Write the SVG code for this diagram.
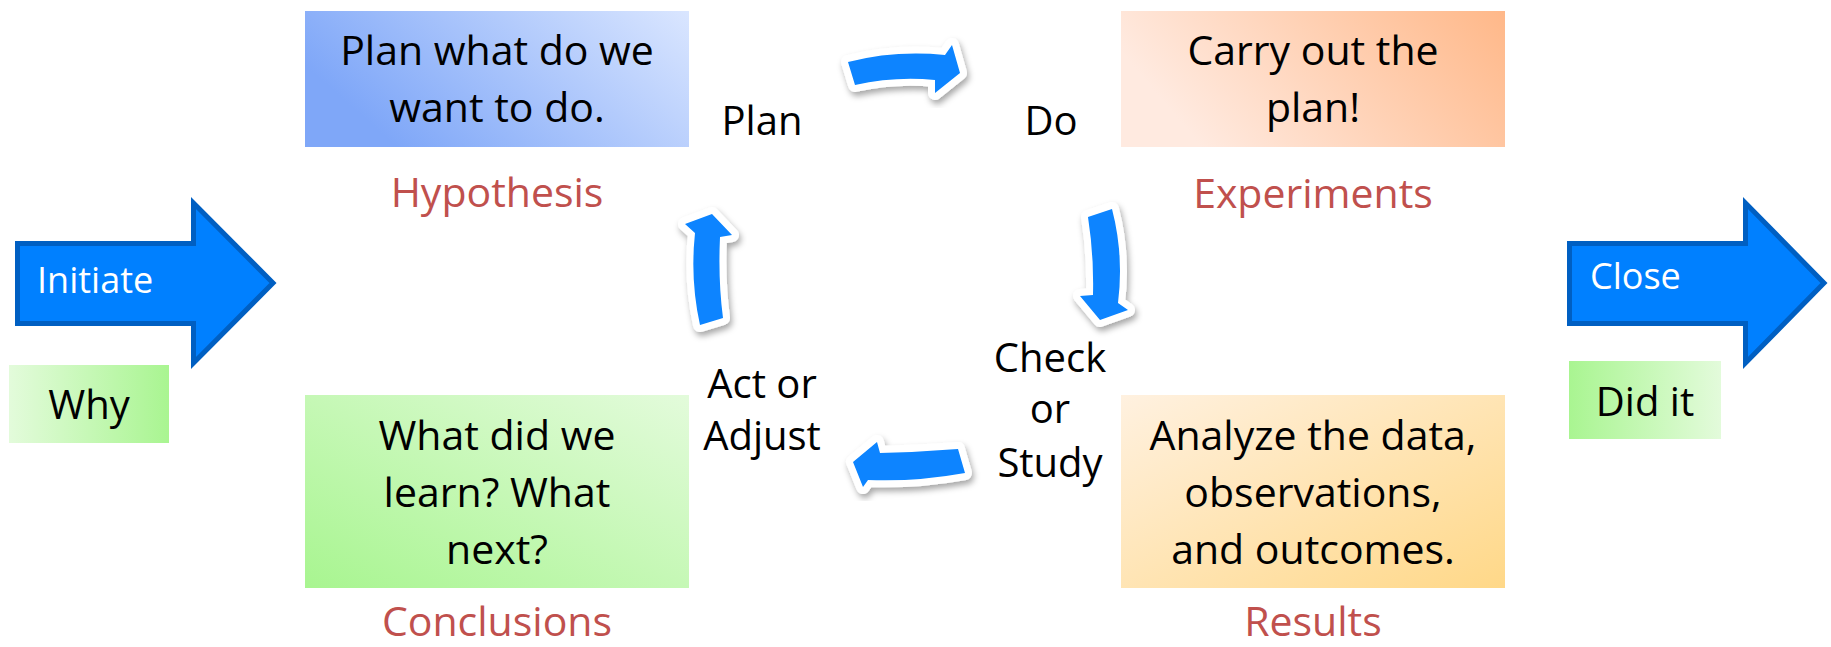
<svg xmlns="http://www.w3.org/2000/svg" width="1831" height="647" viewBox="0 0 1831 647">
  <defs>
    <linearGradient id="gPlan" x1="0" y1="0.4" x2="1" y2="0">
      <stop offset="0" stop-color="#7FA7F8"/>
      <stop offset="1" stop-color="#DAE6FF"/>
    </linearGradient>
    <linearGradient id="gDo" x1="0" y1="0.3" x2="1" y2="0">
      <stop offset="0" stop-color="#FFEAE0"/>
      <stop offset="1" stop-color="#FFB889"/>
    </linearGradient>
    <linearGradient id="gConc" x1="0" y1="1" x2="1" y2="0">
      <stop offset="0" stop-color="#A8F590"/>
      <stop offset="1" stop-color="#E3FBDB"/>
    </linearGradient>
    <linearGradient id="gRes" x1="0" y1="0" x2="1" y2="1">
      <stop offset="0" stop-color="#FFF1E0"/>
      <stop offset="1" stop-color="#FFD888"/>
    </linearGradient>
    <linearGradient id="gWhy" x1="0" y1="0" x2="1" y2="0">
      <stop offset="0" stop-color="#E3FBDB"/>
      <stop offset="1" stop-color="#A9F591"/>
    </linearGradient>
    <linearGradient id="gDid" x1="0" y1="0" x2="1" y2="0">
      <stop offset="0" stop-color="#A9F591"/>
      <stop offset="1" stop-color="#E3FBDB"/>
    </linearGradient>
    <filter id="shadow" x="-30%" y="-30%" width="160%" height="160%">
      <feDropShadow dx="2" dy="4" stdDeviation="3" flood-color="#000" flood-opacity="0.35"/>
    </filter>
  </defs>
  <style>
    text { font-family: "Open Sans", "Liberation Sans", sans-serif; }
    .box { font-size: 41px; fill: #000; text-anchor: middle; }
    .lbl { font-size: 41px; fill: #C0504D; text-anchor: middle; }
    .step { font-size: 40px; fill: #000; text-anchor: middle; }
    .big { fill: #0080FF; stroke: #005FC2; stroke-width: 5; stroke-linejoin: miter; }
    .bigtxt { font-size: 36px; fill: #FFFFFF; }
    .tag { font-size: 40px; fill: #000; text-anchor: middle; }
    .curv { fill: #0A84FF; stroke: #FFFFFF; stroke-width: 14; stroke-linejoin: round; paint-order: stroke; filter: url(#shadow); }
  </style>
  <rect width="1831" height="647" fill="#FFFFFF"/>

  <g id="initiate">
    <polygon class="big" points="17.5,243.5 193.5,243.5 193.5,203 273,283 193.5,363 193.5,323.5 17.5,323.5"/>
    <text class="bigtxt" x="37" y="293">Initiate</text>
  </g>
  <g id="why">
    <rect x="9" y="365" width="160" height="78" fill="url(#gWhy)"/>
    <text class="tag" x="89" y="419">Why</text>
  </g>

  <g id="close">
    <polygon class="big" points="1569.5,243.5 1745.5,243.5 1745.5,203 1824,283 1745.5,363 1745.5,323.5 1569.5,323.5"/>
    <text class="bigtxt" x="1590" y="289">Close</text>
  </g>
  <g id="didit">
    <rect x="1569" y="361" width="152" height="78" fill="url(#gDid)"/>
    <text class="tag" x="1645" y="416">Did it</text>
  </g>

  <g id="plan">
    <rect x="305" y="11" width="384" height="136" fill="url(#gPlan)"/>
    <text class="box" x="497" y="65">Plan what do we</text>
    <text class="box" x="497" y="122">want to do.</text>
    <text class="lbl" x="497" y="207">Hypothesis</text>
  </g>

  <g id="do">
    <rect x="1121" y="11" width="384" height="136" fill="url(#gDo)"/>
    <text class="box" x="1313" y="65">Carry out the</text>
    <text class="box" x="1313" y="122">plan!</text>
    <text class="lbl" x="1313" y="208">Experiments</text>
  </g>

  <g id="results">
    <rect x="1121" y="395" width="384" height="193" fill="url(#gRes)"/>
    <text class="box" x="1313" y="450">Analyze the data,</text>
    <text class="box" x="1313" y="507">observations,</text>
    <text class="box" x="1313" y="564">and outcomes.</text>
    <text class="lbl" x="1313" y="636">Results</text>
  </g>

  <g id="conclusions">
    <rect x="305" y="395" width="384" height="193" fill="url(#gConc)"/>
    <text class="box" x="497" y="450">What did we</text>
    <text class="box" x="497" y="507">learn? What</text>
    <text class="box" x="497" y="564">next?</text>
    <text class="lbl" x="497" y="636">Conclusions</text>
  </g>

  <g id="step-plan">
    <text class="step" x="762" y="135">Plan</text>
  </g>
  <g id="step-do">
    <text class="step" x="1051" y="135">Do</text>
  </g>
  <g id="step-check">
    <text class="step" x="1050" y="372">Check</text>
    <text class="step" x="1050" y="423">or</text>
    <text class="step" x="1050" y="477">Study</text>
  </g>
  <g id="step-act">
    <text class="step" x="762" y="398">Act or</text>
    <text class="step" x="762" y="450">Adjust</text>
  </g>

  <g id="connectors">
    <path class="curv" d="M848,62 Q895,50 945,55 L952,45 L960,73 L935,93 L935,80 Q895,76 855,85 Z"/>
    <path class="curv" d="M1088,217 L1112,209 Q1124,255 1118,303 L1128,310 L1100,320 L1080,296 L1093,295 Q1094,255 1088,217 Z"/>
    <path class="curv" d="M965,473 L958,449 Q920,452 880,453 L877,442 L853,462 L863,487 L868,480 Q915,482 965,473 Z"/>
    <path class="curv" d="M700,325 L723,318 Q718,280 720,237 L732,235 L712,214 L685,224 L695,233 Q690,280 700,325 Z"/>
  </g>
</svg>
